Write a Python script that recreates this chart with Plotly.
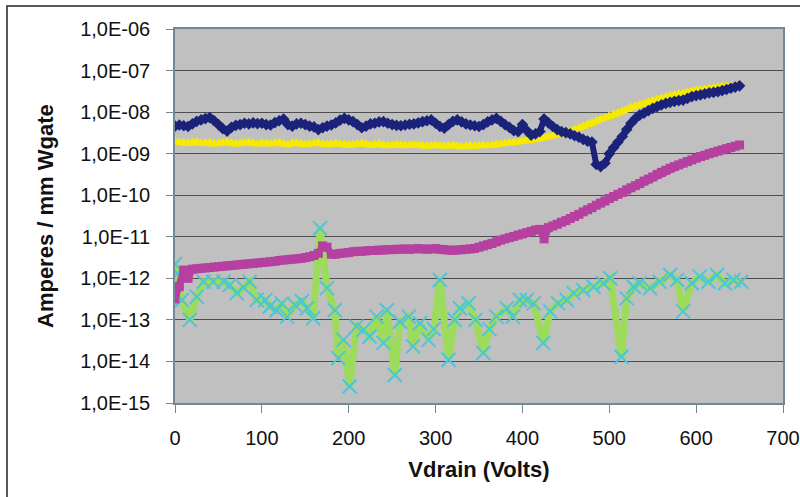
import plotly.graph_objects as go

# ---------------- data ----------------
vdrain = list(range(0, 655, 5))

blue = [
    4.6e-9, 4.9e-9, 4.7e-9, 4.5e-9, 5.2e-9, 6.0e-9, 6.5e-9, 7.0e-9, 7.4e-9, 6.2e-9,
    5.0e-9, 4.0e-9, 3.5e-9, 4.3e-9, 4.8e-9, 5.0e-9, 5.4e-9, 5.2e-9, 5.5e-9, 5.3e-9,
    5.4e-9, 5.0e-9, 4.9e-9, 5.6e-9, 6.2e-9, 6.8e-9, 5.0e-9, 4.6e-9, 5.2e-9, 5.4e-9,
    5.0e-9, 4.6e-9, 4.4e-9, 3.8e-9, 4.2e-9, 4.6e-9, 4.9e-9, 5.5e-9, 6.4e-9, 7.1e-9,
    6.5e-9, 5.9e-9, 5.0e-9, 4.2e-9, 4.6e-9, 5.2e-9, 5.4e-9, 5.8e-9, 5.9e-9, 5.4e-9,
    5.0e-9, 4.8e-9, 4.7e-9, 4.9e-9, 5.1e-9, 5.2e-9, 5.5e-9, 5.9e-9, 6.2e-9, 6.5e-9,
    5.4e-9, 4.5e-9, 4.1e-9, 5.0e-9, 6.0e-9, 6.5e-9, 5.8e-9, 5.2e-9, 4.9e-9, 4.7e-9,
    4.5e-9, 5.0e-9, 5.8e-9, 6.5e-9, 7.1e-9, 6.0e-9, 5.0e-9, 4.3e-9, 3.6e-9, 3.4e-9,
    5.0e-9, 3.6e-9, 2.8e-9, 3.0e-9, 3.4e-9, 6.8e-9, 5.5e-9, 4.5e-9, 3.8e-9, 3.4e-9,
    3.2e-9, 3.0e-9, 2.7e-9, 2.5e-9, 2.2e-9, 2.0e-9, 1.9e-9, 5.5e-10, 4.9e-10, 5.9e-10,
    1.0e-9, 1.4e-9, 1.9e-9, 2.6e-9, 3.8e-9, 5.4e-9, 7.0e-9, 8.5e-9, 9.5e-9, 1.08e-8,
    1.23e-8, 1.35e-8, 1.50e-8, 1.62e-8, 1.72e-8, 1.82e-8, 1.90e-8, 1.95e-8, 2.15e-8, 2.35e-8,
    2.50e-8, 2.60e-8, 2.75e-8, 2.90e-8, 3.00e-8, 3.10e-8, 3.30e-8, 3.50e-8, 3.75e-8, 4.00e-8,
    4.30e-8,
]

yellow = [
    1.95e-9, 1.85e-9, 1.80e-9, 1.75e-9, 1.85e-9, 1.90e-9, 1.75e-9, 1.80e-9, 1.85e-9, 1.70e-9,
    1.75e-9, 1.80e-9, 1.90e-9, 1.80e-9, 1.70e-9, 1.75e-9, 1.80e-9, 1.85e-9, 1.75e-9, 1.70e-9,
    1.80e-9, 1.75e-9, 1.70e-9, 1.80e-9, 1.85e-9, 1.70e-9, 1.65e-9, 1.75e-9, 1.80e-9, 1.70e-9,
    1.65e-9, 1.70e-9, 1.75e-9, 1.80e-9, 1.70e-9, 1.65e-9, 1.70e-9, 1.75e-9, 1.70e-9, 1.65e-9,
    1.60e-9, 1.65e-9, 1.70e-9, 1.75e-9, 1.70e-9, 1.60e-9, 1.65e-9, 1.70e-9, 1.60e-9, 1.55e-9,
    1.60e-9, 1.65e-9, 1.60e-9, 1.55e-9, 1.60e-9, 1.65e-9, 1.60e-9, 1.55e-9, 1.50e-9, 1.55e-9,
    1.60e-9, 1.55e-9, 1.50e-9, 1.55e-9, 1.60e-9, 1.50e-9, 1.45e-9, 1.50e-9, 1.55e-9, 1.50e-9,
    1.55e-9, 1.60e-9, 1.55e-9, 1.60e-9, 1.65e-9, 1.70e-9, 1.75e-9, 1.80e-9, 1.85e-9, 1.90e-9,
    2.00e-9, 2.04e-9, 2.09e-9, 2.19e-9, 2.29e-9, 2.40e-9, 2.51e-9, 2.69e-9, 2.82e-9, 2.95e-9,
    3.16e-9, 3.47e-9, 3.80e-9, 4.17e-9, 4.57e-9, 5.01e-9, 5.50e-9, 6.03e-9, 6.61e-9, 7.24e-9,
    7.94e-9, 8.71e-9, 9.55e-9, 1.05e-8, 1.15e-8, 1.29e-8, 1.41e-8, 1.51e-8, 1.62e-8, 1.74e-8,
    1.86e-8, 2.00e-8, 2.14e-8, 2.29e-8, 2.45e-8, 2.57e-8, 2.69e-8, 2.82e-8, 3.02e-8, 3.16e-8,
    3.31e-8, 3.39e-8, 3.55e-8, 3.63e-8, 3.80e-8, 3.89e-8, 4.07e-8, 4.17e-8, 4.27e-8, 4.37e-8,
    4.57e-8,
]

magenta = [
    3.2e-13, 6.3e-13, 1.58e-12, 1.0e-12, 1.66e-12, 1.70e-12, 1.74e-12, 1.78e-12, 1.82e-12, 1.86e-12,
    1.91e-12, 1.95e-12, 2.00e-12, 2.04e-12, 2.09e-12, 2.14e-12, 2.19e-12, 2.24e-12, 2.29e-12, 2.34e-12,
    2.40e-12, 2.45e-12, 2.51e-12, 2.57e-12, 2.69e-12, 2.75e-12, 2.82e-12, 2.88e-12, 2.95e-12, 3.02e-12,
    3.16e-12, 3.31e-12, 3.55e-12, 3.98e-12, 6.03e-12, 5.62e-12, 3.80e-12, 3.80e-12, 3.98e-12, 4.07e-12,
    4.17e-12, 4.37e-12, 4.47e-12, 4.47e-12, 4.57e-12, 4.68e-12, 4.68e-12, 4.79e-12, 4.79e-12, 4.90e-12,
    4.90e-12, 5.01e-12, 5.00e-12, 5.10e-12, 5.00e-12, 5.10e-12, 5.20e-12, 5.10e-12, 5.00e-12, 5.10e-12,
    5.20e-12, 5.00e-12, 4.90e-12, 4.80e-12, 4.70e-12, 4.80e-12, 4.90e-12, 5.00e-12, 5.10e-12, 5.25e-12,
    5.62e-12, 6.03e-12, 6.46e-12, 6.92e-12, 7.59e-12, 8.32e-12, 8.91e-12, 9.55e-12, 1.02e-11, 1.10e-11,
    1.17e-11, 1.26e-11, 1.35e-11, 1.45e-11, 1.51e-11, 8.90e-12, 1.66e-11, 1.82e-11, 2.00e-11, 2.24e-11,
    2.45e-11, 2.75e-11, 3.09e-11, 3.47e-11, 3.98e-11, 4.47e-11, 5.01e-11, 5.75e-11, 6.46e-11, 7.24e-11,
    8.32e-11, 9.33e-11, 1.05e-10, 1.17e-10, 1.35e-10, 1.51e-10, 1.70e-10, 1.91e-10, 2.19e-10, 2.45e-10,
    2.75e-10, 3.16e-10, 3.55e-10, 3.98e-10, 4.47e-10, 4.90e-10, 5.37e-10, 5.89e-10, 6.46e-10, 7.08e-10,
    7.76e-10, 8.51e-10, 9.12e-10, 1.00e-9, 1.07e-9, 1.15e-9, 1.23e-9, 1.32e-9, 1.41e-9, 1.51e-9,
    1.62e-9,
]

green_v = [
    0, 3, 8, 17, 25, 33, 44, 56, 63, 71, 79, 86, 94, 104, 109, 117, 123, 129, 138, 146,
    152, 159, 167, 175, 184, 188, 194, 201, 209, 217, 224, 232, 240, 244, 253, 259, 269, 274, 282, 292,
    298, 305, 315, 322, 328, 338, 346, 355, 362, 370, 382, 389, 397, 405, 413, 424, 432, 441, 451, 459,
    470, 482, 493, 501, 514, 520, 528, 535, 547, 558, 570, 578, 585, 595, 604, 614, 624, 633, 643, 652,
]
green_i = [
    2.2e-12, 1.3e-12, 3.0e-13, 1.0e-13, 3.6e-13, 8.3e-13, 8.3e-13, 8.3e-13, 6.9e-13, 4.4e-13,
    6.0e-13, 8.3e-13, 3.0e-13, 3.0e-13, 2.1e-13, 1.7e-13, 2.5e-13, 1.2e-13, 2.3e-13, 2.8e-13,
    1.9e-13, 1.1e-13, 1.6e-11, 5.8e-13, 1.7e-13, 1.2e-14, 3.3e-14, 2.5e-15, 6.9e-14, 5.8e-14,
    4.0e-14, 1.2e-13, 2.8e-14, 1.7e-13, 4.7e-15, 9.0e-14, 1.2e-13, 2.3e-14, 8.3e-14, 3.3e-14,
    6.0e-14, 9.1e-13, 1.1e-14, 1.0e-13, 1.9e-13, 2.5e-13, 1.0e-13, 1.6e-14, 6.0e-14, 1.2e-13,
    1.9e-13, 1.2e-13, 3.0e-13, 3.0e-13, 2.5e-13, 2.8e-14, 1.6e-13, 2.5e-13, 3.0e-13, 4.4e-13,
    5.2e-13, 6.3e-13, 7.6e-13, 1.0e-12, 1.3e-14, 3.3e-13, 6.3e-13, 7.6e-13, 5.8e-13, 8.3e-13,
    1.2e-12, 9.1e-13, 1.6e-13, 7.6e-13, 1.1e-12, 8.3e-13, 1.2e-12, 7.6e-13, 9.1e-13, 8.3e-13,
]

y_tickvals = [1e-15, 1e-14, 1e-13, 1e-12, 1e-11, 1e-10, 1e-9, 1e-8, 1e-7, 1e-6]
y_ticktext = ["1,0E-15", "1,0E-14", "1,0E-13", "1,0E-12", "1,0E-11",
              "1,0E-10", "1,0E-09", "1,0E-08", "1,0E-07", "1,0E-06"]
x_tickvals = [0, 100, 200, 300, 400, 500, 600, 700]

x_title = "Vdrain (Volts)"
y_title = "Amperes / mm Wgate"

# ---------------- figure ----------------
FONT = "Liberation Sans, Arial, sans-serif"

fig = go.Figure()

fig.add_trace(go.Scatter(
    x=green_v, y=green_i, mode="lines+markers",
    line=dict(color="#9ddb5c", width=7),
    marker=dict(symbol="x-thin", size=14, color="#4cc6d6",
                line=dict(color="#4cc6d6", width=2)),
    showlegend=False))

fig.add_trace(go.Scatter(
    x=vdrain, y=magenta, mode="lines+markers",
    line=dict(color="#b5409f", width=7),
    marker=dict(symbol="square", size=9, color="#b5409f"),
    showlegend=False))

fig.add_trace(go.Scatter(
    x=vdrain, y=yellow, mode="lines+markers",
    line=dict(color="#f2e600", width=5),
    marker=dict(symbol="triangle-up", size=10, color="#f5ea00"),
    showlegend=False))

fig.add_trace(go.Scatter(
    x=vdrain, y=blue, mode="lines+markers",
    line=dict(color="#1b227a", width=6),
    marker=dict(symbol="diamond", size=9, color="#1b227a"),
    showlegend=False))

fig.update_layout(
    width=800, height=497, autosize=False,
    margin=dict(l=175, r=17, t=29, b=94, autoexpand=False),
    paper_bgcolor="white",
    plot_bgcolor="#c0c0c0",
    font=dict(family=FONT, size=20, color="#111111"),
    showlegend=False,
)

fig.update_xaxes(
    range=[0, 700], tickvals=x_tickvals, automargin=False,
    showgrid=False, zeroline=False,
    showline=True, linecolor="#6f8a96", linewidth=1.5, mirror=True,
    ticks="outside", ticklen=8, tickcolor="#6f8a96", tickwidth=1,
    ticklabelstandoff=8,
    tickfont=dict(family=FONT, size=20, color="#111111"),
    title=dict(text="<b>" + x_title + "</b>", font=dict(family=FONT, size=22, color="#111111"),
               standoff=14),
)

fig.update_yaxes(
    type="log", range=[-15, -6], automargin=False,
    tickvals=y_tickvals, ticktext=y_ticktext,
    showgrid=True, gridcolor="#4e4e4e", gridwidth=1,
    zeroline=False,
    showline=True, linecolor="#6f8a96", linewidth=1.5, mirror=True,
    ticks="outside", ticklen=7, tickcolor="#6f8a96", tickwidth=1,
    ticklabelstandoff=12,
    tickfont=dict(family=FONT, size=20, color="#111111"),
)

fig.add_annotation(
    text="<b>" + y_title + "</b>", textangle=-90,
    xref="paper", yref="paper", x=(45 - 175) / 608, y=0.5,
    xanchor="center", yanchor="middle", showarrow=False,
    font=dict(family=FONT, size=22, color="#111111"),
)

# outer chart frame
fig.add_shape(type="rect", xref="paper", yref="paper",
              x0=(7 - 175) / 608, x1=1.2, y0=-0.4, y1=1 + (29 - 6) / 374,
              line=dict(color="#222222", width=1.5), layer="below")

fig.write_html(
    "out.html",
    config={"responsive": False, "displayModeBar": False},
    post_script="document.body.style.margin='0';document.body.style.overflow='hidden';",
)
